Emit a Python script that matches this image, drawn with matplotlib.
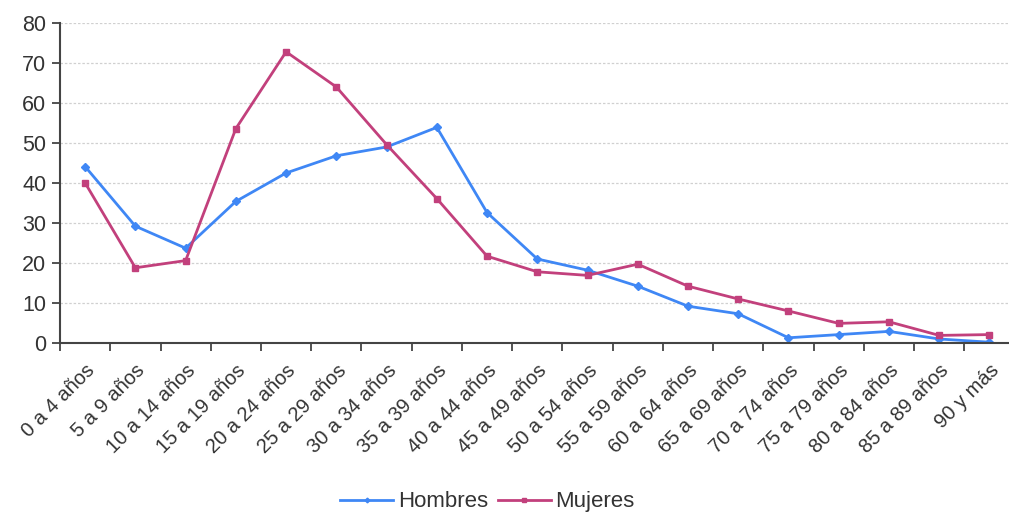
import matplotlib
matplotlib.use("Agg")
import matplotlib.pyplot as plt
import numpy as np

plt.rcParams['font.family'] = ['Liberation Sans', 'DejaVu Sans']

# Age groups and values
categories = ['0 a 4 años', '5 a 9 años', '10 a 14 años', '15 a 19 años', '20 a 24 años',
              '25 a 29 años', '30 a 34 años', '35 a 39 años', '40 a 44 años', '45 a 49 años',
              '50 a 54 años', '55 a 59 años', '60 a 64 años', '65 a 69 años', '70 a 74 años',
              '75 a 79 años', '80 a 84 años', '85 a 89 años', '90 y más']
hombres = [44.1, 29.2, 23.7, 35.4, 42.5, 46.8, 49.0, 53.9, 32.6, 21.0,
           18.2, 14.2, 9.2, 7.3, 1.3, 2.1, 2.9, 1.0, 0.2]
mujeres = [40.0, 18.8, 20.6, 53.6, 72.8, 64.0, 49.6, 36.1, 21.7, 17.8,
           16.9, 19.7, 14.2, 11.0, 8.0, 4.9, 5.3, 1.9, 2.1]
yticks = [0, 10, 20, 30, 40, 50, 60, 70, 80]

fig = plt.figure(figsize=(10.09, 5.13), dpi=100)
ax = fig.add_axes([0.0595, 0.3314, 0.946, 0.6238])

x = np.arange(len(categories))
ax.plot(x, hombres, color='#3f87f5', lw=2, marker='D', ms=4, label='Hombres')
ax.plot(x, mujeres, color='#c2407c', lw=2, marker='s', ms=5, label='Mujeres')

ax.set_xlim(-0.5, len(categories) - 0.5)
ax.set_ylim(0, 80)
ax.set_yticks(yticks)
ax.yaxis.grid(True, linestyle=(0, (2, 1.5)), color='#d0d0d0', lw=0.9)
ax.set_axisbelow(True)

ax.set_xticks(x)
ax.set_xticklabels(categories, rotation=45, ha='right', rotation_mode='anchor', fontsize=14.5)
ax.set_xticks(np.arange(len(categories)) - 0.5, minor=True)
ax.tick_params(axis='x', which='major', length=0, pad=13)
ax.tick_params(axis='x', which='minor', length=6, width=1.3, color='#444444')
ax.tick_params(axis='y', length=6, width=1.3, color='#444444', labelsize=15.5, pad=4,
               labelcolor='#333333')
ax.tick_params(axis='x', labelcolor='#333333')

for s in ['top', 'right']:
    ax.spines[s].set_visible(False)
for s in ['left', 'bottom']:
    ax.spines[s].set_color('#444444')
    ax.spines[s].set_linewidth(1.5)

fig.legend(loc='lower center', bbox_to_anchor=(0.483, -0.038), ncol=2, frameon=False,
           fontsize=16, handlelength=2.4, columnspacing=0.45, handletextpad=0.2,
           markerscale=0.6, labelcolor='#333333')

fig.savefig('out.png', dpi=100)
